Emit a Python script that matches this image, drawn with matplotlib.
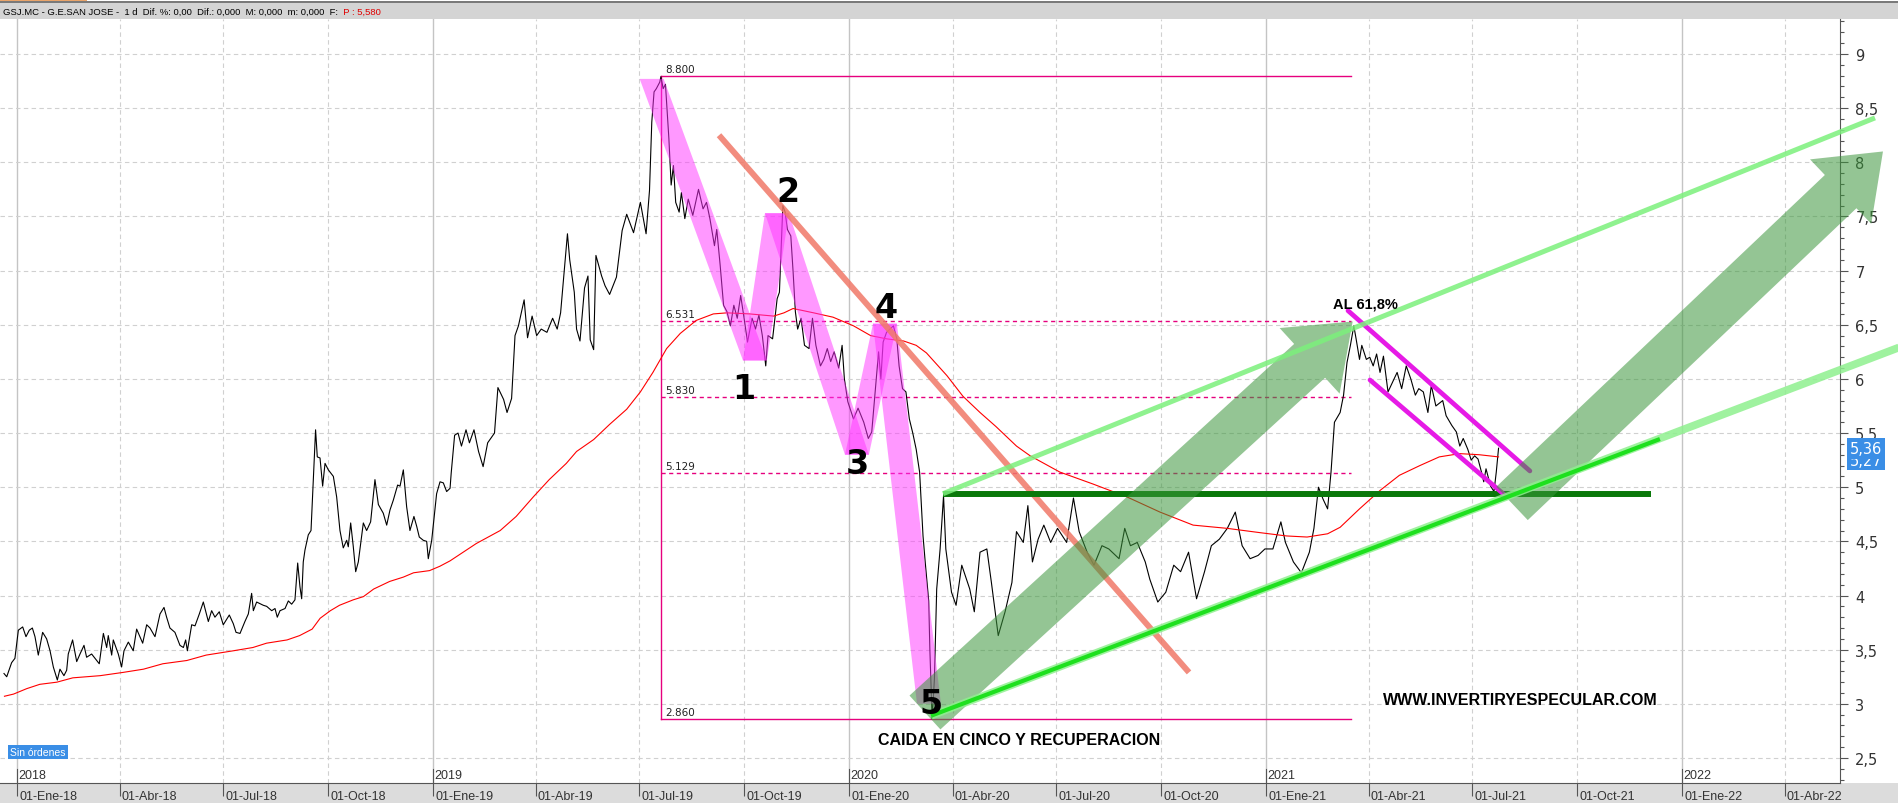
import datetime as dt
import numpy as np
import matplotlib
matplotlib.use("Agg")
import matplotlib.pyplot as plt
from matplotlib.patches import Rectangle, FancyArrowPatch, Polygon
from matplotlib.ticker import MultipleLocator

# x = days since 01-Ene-2018
price_day = [-11.4, -9, -4.7, -1.8, 1.2, 5, 7.9, 10.8, 13.5, 15.8, 18.7, 22.5, 26, 29, 31.9, 35.4, 37.7,
             41.2, 43.6, 45, 48.8, 52.4, 55.3, 58.8, 61.1, 65.5, 72.2, 75.8, 78.7, 80.1, 83.1, 84.5, 88.9,
             91.8, 93.9, 97.7, 102, 105, 107.9, 110.3, 113.8, 116.7, 121.1, 125.5, 129, 131.3, 134.2,
             138.6, 143, 146, 148, 149.5, 153.3, 156.2, 160, 163.5, 167.9, 170.8, 173.7, 177.5, 181,
             186.3, 189.8, 192.2, 195.7, 200, 203, 205.9, 207.4, 210.3, 216.1, 219.1, 223.5, 226.4,
             228.4, 230.8, 235.2, 238.1, 241, 243.9, 246.3, 248.3, 249.8, 251.2, 252.7, 255.6, 258, 260,
             262, 263.5, 265.9, 268.2, 270.3, 273.2, 277.6, 280.5, 283.4, 286.3, 289.3, 290.7, 292.8,
             295.1, 297.2, 299.5, 303.9, 306.8, 310.3, 314.1, 317.1, 321.4, 324.4, 327.3, 330.2, 334,
             336.1, 339, 341.9, 344.8, 348.3, 350.7, 353, 356.5, 359.5, 360.9, 363.9, 368.2, 371.2,
             374.1, 377, 380, 381, 384, 387, 390, 394, 397, 401, 405, 409, 413, 419, 422, 427, 430, 434,
             437, 440, 445, 448, 452, 456, 460, 465, 470, 474, 477, 483, 485, 489, 491, 494, 498, 501,
             503, 506, 508, 513, 516, 520, 526, 531, 535, 541, 547, 552, 555, 557, 559, 561, 564, 565,
             567, 569, 572, 574, 576, 578, 581, 583, 586, 589, 593, 598, 602, 605, 608, 612, 614, 617,
             620, 623, 626, 629, 632, 635, 638, 641, 645, 648, 651, 654, 657, 659, 663, 667, 669, 672,
             674, 676, 679, 681, 683, 685, 688, 691, 695, 698, 701, 705, 708, 711, 714, 717, 721, 724,
             726, 729, 734, 738, 743, 747, 750, 753, 756, 758, 760, 763, 766, 769, 772, 774, 777, 780,
             783, 786, 789, 792, 795, 797, 800, 801, 803, 805, 807, 810, 813, 815, 820, 824, 829, 836,
             840, 845, 851, 855, 861, 867, 873, 877, 883, 887, 891, 896, 901, 907, 913, 921, 927, 932,
             939, 945, 952, 958, 967, 972, 977, 983, 990, 994, 1001, 1008, 1015, 1021, 1028, 1035,
             1042, 1048, 1055, 1062, 1069, 1075, 1082, 1089, 1095, 1102, 1109, 1113, 1120, 1127, 1134,
             1138, 1142, 1146, 1150, 1153, 1156, 1161, 1164, 1167, 1170, 1173, 1175, 1178, 1180, 1184,
             1187, 1190, 1193, 1196, 1199, 1203, 1207, 1211, 1215, 1219, 1223, 1227, 1230, 1234, 1238,
             1241, 1245, 1251, 1254, 1259, 1263, 1266, 1269, 1273, 1276, 1279, 1282, 1285, 1287, 1289,
             1293, 1296, 1298, 1300]
price_val = [3.28, 3.25, 3.38, 3.42, 3.68, 3.71, 3.62, 3.68, 3.70, 3.62, 3.45, 3.66, 3.60, 3.49, 3.34,
             3.22, 3.32, 3.26, 3.31, 3.46, 3.59, 3.39, 3.46, 3.54, 3.43, 3.46, 3.37, 3.65, 3.52, 3.63,
             3.45, 3.59, 3.46, 3.34, 3.49, 3.57, 3.49, 3.69, 3.62, 3.56, 3.73, 3.70, 3.62, 3.83, 3.89,
             3.80, 3.70, 3.66, 3.54, 3.52, 3.59, 3.49, 3.73, 3.72, 3.83, 3.94, 3.76, 3.86, 3.80, 3.85,
             3.73, 3.82, 3.74, 3.66, 3.65, 3.76, 3.83, 4.02, 3.86, 3.94, 3.91, 3.90, 3.86, 3.88, 3.80,
             3.86, 3.88, 3.95, 3.92, 3.96, 4.30, 4.08, 3.97, 4.31, 4.42, 4.56, 4.60, 5.07, 5.53, 5.28,
             5.27, 5.01, 5.22, 5.16, 5.10, 4.91, 4.60, 4.44, 4.51, 4.45, 4.67, 4.45, 4.22, 4.31, 4.67,
             4.60, 4.68, 5.07, 4.84, 4.76, 4.65, 4.79, 4.88, 5.02, 5.01, 5.16, 4.82, 4.60, 4.73, 4.64,
             4.54, 4.51, 4.50, 4.34, 4.51, 4.94, 5.05, 5.04, 4.96, 4.99, 5.13, 5.48, 5.50, 5.38, 5.53,
             5.41, 5.53, 5.33, 5.19, 5.41, 5.50, 5.92, 5.81, 5.69, 5.82, 6.40, 6.49, 6.73, 6.38, 6.58,
             6.40, 6.46, 6.43, 6.56, 6.46, 6.61, 7.34, 7.10, 6.80, 6.46, 6.35, 6.84, 6.95, 6.36, 6.27,
             7.14, 6.95, 6.86, 6.78, 6.94, 7.37, 7.52, 7.35, 7.63, 7.34, 7.74, 8.37, 8.65, 8.68, 8.74,
             8.79, 8.68, 8.72, 8.22, 7.79, 7.97, 7.63, 7.54, 7.72, 7.48, 7.66, 7.51, 7.75, 7.57, 7.63,
             7.48, 7.23, 7.38, 7.05, 6.68, 6.62, 6.49, 6.68, 6.56, 6.77, 6.56, 6.34, 6.56, 6.46, 6.59,
             6.40, 6.12, 6.40, 6.37, 6.74, 6.80, 7.60, 7.54, 7.38, 7.32, 6.99, 6.62, 6.46, 6.56, 6.31,
             6.28, 6.56, 6.31, 6.12, 6.18, 6.28, 6.16, 6.25, 6.10, 6.31, 6.00, 5.79, 5.63, 5.73, 5.60,
             5.45, 5.51, 5.88, 6.25, 6.00, 6.34, 6.43, 6.46, 6.49, 6.37, 6.12, 5.91, 5.88, 5.63, 5.50,
             5.35, 5.14, 4.55, 4.30, 3.95, 3.50, 2.86, 3.23, 4.06, 4.43, 4.92, 4.43, 4.03, 3.91, 4.28,
             4.06, 3.85, 4.40, 4.43, 4.12, 3.63, 3.85, 4.12, 4.59, 4.49, 4.83, 4.31, 4.52, 4.65, 4.49,
             4.62, 4.49, 4.90, 4.59, 4.40, 4.28, 4.46, 4.43, 4.34, 4.62, 4.46, 4.49, 4.31, 4.15, 3.94,
             4.03, 4.28, 4.22, 4.40, 3.97, 4.22, 4.46, 4.52, 4.62, 4.77, 4.46, 4.34, 4.37, 4.43, 4.43,
             4.68, 4.49, 4.31, 4.21, 4.40, 4.62, 5.00, 4.89, 4.80, 5.14, 5.60, 5.69, 5.85, 6.15, 6.31,
             6.49, 6.37, 6.18, 6.31, 6.18, 6.20, 6.12, 6.23, 6.06, 6.21, 5.88, 5.97, 6.06, 5.91, 6.12,
             6.00, 5.85, 5.91, 5.88, 5.69, 5.94, 5.75, 5.80, 5.66, 5.57, 5.51, 5.38, 5.45, 5.35, 5.25,
             5.29, 5.26, 5.14, 5.05, 5.17, 5.01, 4.96, 5.14, 5.36]

ma_day = [-11, -3, 8.5, 20, 35, 49, 73, 93, 111, 128, 149, 166, 190, 207, 219, 237, 248, 259, 266, 275,
          283, 295, 304, 313, 327, 339, 348, 362, 371, 380, 403, 424, 438, 453, 467, 482, 491, 506, 520,
          535, 547, 558, 570, 582, 596, 611, 623, 643, 664, 673, 681, 699, 716, 734, 749, 763, 778, 789,
          798, 816, 830, 845, 859, 877, 889, 915, 944, 974, 1003, 1032, 1062, 1091, 1114, 1132, 1150,
          1161, 1178, 1196, 1213, 1231, 1248, 1266, 1283, 1300]
ma_val = [3.07, 3.09, 3.14, 3.18, 3.20, 3.24, 3.26, 3.29, 3.32, 3.37, 3.40, 3.45, 3.49, 3.52, 3.56,
          3.59, 3.63, 3.69, 3.79, 3.86, 3.91, 3.96, 3.99, 4.06, 4.13, 4.17, 4.21, 4.23, 4.27, 4.32,
          4.48, 4.60, 4.73, 4.91, 5.07, 5.22, 5.33, 5.44, 5.58, 5.72, 5.88, 6.06, 6.28, 6.42, 6.54,
          6.60, 6.61, 6.60, 6.58, 6.61, 6.65, 6.61, 6.57, 6.49, 6.40, 6.37, 6.35, 6.31, 6.24, 6.03,
          5.84, 5.69, 5.56, 5.38, 5.29, 5.14, 5.03, 4.91, 4.77, 4.65, 4.62, 4.58, 4.55, 4.54, 4.57,
          4.63, 4.80, 4.97, 5.11, 5.20, 5.28, 5.31, 5.30, 5.28]

fib_levels = [8.8, 6.531, 5.83, 5.129, 2.86]
fib_labels = ["8.800", "6.531", "5.830", "5.129", "2.860"]
fib_day0, fib_day1 = 565, 1170.5

wave_day = [556.9, 647.5, 666.8, 737.0, 761.6, 800.2]
wave_val = [8.77, 6.17, 7.53, 5.30, 6.51, 3.00]
wave_names = ["1", "2", "3", "4", "5"]
wave_lbl_day = [637.5, 676.5, 737.1, 762.5, 802]
wave_lbl_val = [5.91, 7.73, 5.22, 6.66, 3.00]

months = {1: "Ene", 4: "Abr", 7: "Jul", 10: "Oct"}
quarters = [(y, m) for y in range(2018, 2023) for m in (1, 4, 7, 10)][:18]

NARROW = ["Liberation Sans Narrow", "Liberation Sans", "DejaVu Sans"]

W, H = 1899, 804
fig = plt.figure(figsize=(W / 100, H / 100), dpi=100)
fig.patch.set_facecolor("white")

# header / footer bands
fig.patches.append(Rectangle((0, 1 - 20 / H), 1, 17 / H, transform=fig.transFigure,
                             facecolor="#d4d4d4", edgecolor="none", zorder=-5))
fig.patches.append(Rectangle((0, 1 - 4 / H), 1, 2 / H, transform=fig.transFigure,
                             facecolor="#7a7a7a", edgecolor="none", zorder=-5))
fig.patches.append(Rectangle((0, 1 - 2 / H), 87 / W, 2 / H, transform=fig.transFigure,
                             facecolor="#e9a46a", edgecolor="none", zorder=-5))
fig.patches.append(Rectangle((0, 0), 1, 20 / H, transform=fig.transFigure,
                             facecolor="#dcdcdc", edgecolor="none", zorder=-5))

ax = fig.add_axes([0, 20 / H, 1840 / W, 764 / H])
ax.set_xlim(-14.9, 1599.6)
ax.set_ylim(2.269, 9.323)
ax.set_facecolor("none")

# grid
qdays = [(dt.date(y, m, 1) - dt.date(2018, 1, 1)).days for y, m in quarters]
for (y, m), d in zip(quarters, qdays):
    if m == 1:
        ax.axvline(d, color="#c4c4c4", lw=1.0, zorder=0)
    else:
        ax.axvline(d, color="#d0d0d0", lw=0.8, ls=(0, (4, 3)), zorder=0)
for v in np.arange(2.5, 9.01, 0.5):
    ax.axhline(v, color="#d0d0d0", lw=0.8, ls=(0, (4, 3)), zorder=0)

# fibonacci levels
ax.plot([fib_day0, fib_day0], [fib_levels[0], fib_levels[-1]], color="#e6007e", lw=1, zorder=1.5)
for lv, lb in zip(fib_levels, fib_labels):
    ls = "-" if lv in (fib_levels[0], fib_levels[-1]) else (0, (3, 2.5))
    ax.plot([fib_day0, fib_day1], [lv, lv], color="#e6007e", lw=1, ls=ls, zorder=1.5)
    ax.annotate(lb, (fib_day0, lv), xytext=(3, 1.5), textcoords="offset points",
                fontsize=7.5, color="#222", va="bottom", ha="left")

# price and moving average
ax.plot(price_day, price_val, color="black", lw=0.8, zorder=2)
ax.plot(ma_day, ma_val, color="#ff0000", lw=0.8, zorder=2)

# pink five-wave band
hw = 10.5
for i in range(len(wave_day) - 1):
    d0, v0, d1, v1 = wave_day[i], wave_val[i], wave_day[i + 1], wave_val[i + 1]
    ax.add_patch(Polygon([(d0 - hw, v0), (d0 + hw, v0), (d1 + hw, v1), (d1 - hw, v1)],
                         closed=True, facecolor="#ff33ff", edgecolor="none", alpha=0.5, zorder=3))
for n, d, v in zip(wave_names, wave_lbl_day, wave_lbl_val):
    ax.text(d, v, n, fontsize=24, fontweight="bold", ha="center", va="center", color="black", zorder=8)

# descending trendline
ax.plot([616, 1028.4], [8.25, 3.29], color="#f07868", lw=4.3, alpha=0.85, zorder=3.5,
        solid_capstyle="butt")

# resistance / channel lines
ax.plot([812.5, 1433.7], [4.94, 4.94], color="#0a780a", lw=4.3, zorder=4, solid_capstyle="butt")
ax.plot([1167.9, 1327.5], [6.63, 5.15], color="#e61ae6", lw=3.4, zorder=4.5, solid_capstyle="round")
ax.plot([1187.2, 1307.4], [5.99, 4.91], color="#e61ae6", lw=3.4, zorder=4.5, solid_capstyle="round")

# big arrows
for (a, b) in [((796.7, 2.92), (1172, 6.53)), ((1311.8, 4.85), (1637.3, 8.10))]:
    arr = FancyArrowPatch(a, b, arrowstyle="simple,head_length=42,head_width=64,tail_width=33",
                          mutation_scale=1, shrinkA=0, shrinkB=0, facecolor="#3c963c",
                          edgecolor="none", alpha=0.55, zorder=5, clip_on=False)
    ax.add_patch(arr)

# support lines
ax.plot([812.5, 1630.3], [4.94, 8.41], color="#7cf07c", lw=3.6, alpha=0.85, zorder=6,
        clip_on=False, solid_capstyle="butt")
ax.plot([802, 1651.3], [2.89, 6.29], color="#8ef08e", lw=5.6, alpha=0.85, zorder=6,
        clip_on=False, solid_capstyle="butt")
ax.plot([802, 1441.6], [2.89, 5.445], color="#1ee01e", lw=3.0, zorder=6.5, solid_capstyle="butt")

# texts
ax.text(1182.8, 6.70, "AL 61,8%", fontsize=10.5, fontweight="bold", ha="center", va="center",
        family=["Liberation Sans", "DejaVu Sans"], zorder=8)
ax.text(879.2, 2.675, "CAIDA EN CINCO Y RECUPERACION", fontsize=11.5, fontweight="bold",
        ha="center", va="center", family=NARROW, zorder=8)
ax.text(1318.8, 3.04, "WWW.INVERTIRYESPECULAR.COM", fontsize=11.5, fontweight="bold",
        ha="center", va="center", family=NARROW, zorder=8)

# axes styling
for s in ("left", "top"):
    ax.spines[s].set_visible(False)
ax.spines["right"].set_color("#555555")
ax.spines["bottom"].set_color("#555555")
ax.yaxis.tick_right()
yt = np.arange(2.5, 9.01, 0.5)
ax.set_yticks(yt)
ax.set_yticklabels([("%g" % v).replace(".", ",") for v in yt])
ax.yaxis.set_minor_locator(MultipleLocator(0.1))
ax.tick_params(axis="y", which="major", length=6, width=0.8, colors="#555555", labelcolor="#333333",
               labelsize=10.5, pad=5)
ax.tick_params(axis="y", which="minor", length=3, width=0.8, colors="#555555")
ax.set_xticks(qdays)
ax.tick_params(axis="x", length=9, width=0.8, colors="#555555", labelbottom=False)

xtr = ax.get_xaxis_transform()
for (y, m), d in zip(quarters, qdays):
    ax.text(d + 2, -0.017, "01-%s-%02d" % (months[m], y % 100), transform=xtr, fontsize=9,
            color="#333333", ha="left", va="center", clip_on=False, family=NARROW, zorder=9)
    if m == 1:
        ax.plot([d, d], [0, 0.018], transform=xtr, color="#555555", lw=0.8, clip_on=False)
        ax.text(d + 1.5, 0.0105, str(y), transform=xtr, fontsize=9, color="#333333",
                ha="left", va="center", clip_on=False, family=NARROW)

# last price boxes
ytr = ax.get_yaxis_transform()
ax.text(1.0054, 5.25, "5,27", transform=ytr, fontsize=10.5, color="white", ha="left", va="center",
        clip_on=False, bbox=dict(facecolor="#3a8ee6", edgecolor="none", pad=2))
ax.text(1.0054, 5.355, "5,36", transform=ytr, fontsize=10.5, color="white", ha="left", va="center",
        clip_on=False, bbox=dict(facecolor="#3a8ee6", edgecolor="none", pad=2))

# header and status texts
hdr = fig.text(3 / W, 1 - 12 / H,
               "GSJ.MC - G.E.SAN JOSE -  1 d  Dif. %: 0,00  Dif.: 0,000  M: 0,000  m: 0,000  F:",
               fontsize=6.8, va="center", ha="left", family=NARROW)
ax.annotate("  P : 5,580", xy=(1, 0.5), xycoords=hdr, fontsize=6.8, va="center", ha="left",
            color="#e00000", family=NARROW, annotation_clip=False)
fig.text(10 / W, 1 - 753 / H, "Sin órdenes", fontsize=7.5, va="center", ha="left", color="white",
         family=NARROW, bbox=dict(facecolor="#3a8ee6", edgecolor="none", pad=1.5))

fig.savefig("out.png", dpi=100)
